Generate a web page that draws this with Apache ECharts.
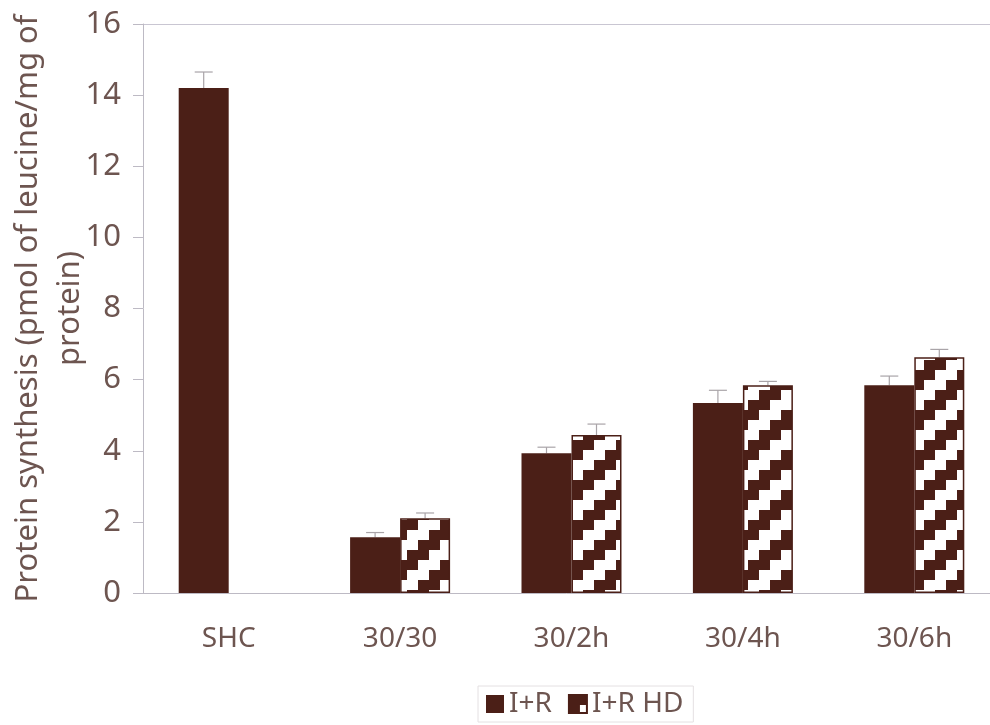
<!DOCTYPE html>
<html>
<head>
<meta charset="utf-8">
<title>Protein synthesis</title>
<script src="https://cdn.jsdelivr.net/npm/echarts@6/dist/echarts.min.js"></script>
<style>
  html, body { margin: 0; padding: 0; background: #fff; }
  #box { width: 990px; height: 725px; }
</style>
</head>
<body>
<div id="box"></div>
<script>
var categories = ['SHC', '30/30', '30/2h', '30/4h', '30/6h']
var irValues = [14.2, 1.57, 3.93, 5.34, 5.84]
var irErrors = [0.45, 0.13, 0.17, 0.36, 0.26]
var hdValues = [null, 2.1, 4.44, 5.84, 6.63]
var hdErrors = [null, 0.15, 0.31, 0.11, 0.22]
var yTicks = [0, 2, 4, 6, 8, 10, 12, 14, 16]

var brown = '#4b1f17'
var textColor = '#6d5550'
var fontName = 'Noto Sans'

// staircase hatch for the HD bars
function makePattern() {
  var c = document.createElement('canvas')
  c.width = 44
  c.height = 40
  var ctx = c.getContext('2d')
  ctx.fillStyle = '#fff'
  ctx.fillRect(0, 0, 44, 40)
  ctx.fillStyle = brown
  for (var i = 0; i < 4; i++) {
    for (var j = 0; j < 4; j++) {
      var k = (i + j) % 4
      if (k === 0 || k === 1) ctx.fillRect(i * 11, j * 10, 11, 10)
    }
  }
  return c
}

function errorSeries(values, errors, offset) {
  var data = []
  for (var i = 0; i < values.length; i++) {
    if (values[i] == null) continue
    data.push([i, values[i], values[i] + errors[i]])
  }
  return {
    type: 'custom',
    silent: true,
    z: 1,
    data: data,
    renderItem: function (params, api) {
      var p0 = api.coord([api.value(0), api.value(1)])
      var p1 = api.coord([api.value(0), api.value(2)])
      var x = p0[0] + offset
      var style = { stroke: '#a9a4a8', lineWidth: 1.2 }
      return {
        type: 'group',
        children: [
          { type: 'line', shape: { x1: x, y1: p0[1], x2: x, y2: p1[1] }, style: style },
          { type: 'line', shape: { x1: x - 9, y1: p1[1], x2: x + 9, y2: p1[1] }, style: style }
        ]
      }
    }
  }
}

var mCharts = echarts.init(document.querySelector('#box'))
var option = {
  animation: false,
  textStyle: { fontFamily: fontName, color: textColor },
  grid: { left: 143, right: -10, top: 24, bottom: 132, containLabel: false, outerBoundsMode: 'none' },
  legend: {
    left: 478,
    top: 686,
    icon: 'rect',
    itemWidth: 18,
    itemHeight: 18,
    itemGap: 16,
    padding: [4, 10, 4, 8],
    borderColor: '#e4e0e2',
    borderWidth: 1,
    textStyle: { fontSize: 28, color: textColor, fontFamily: fontName },
    data: ['I+R', 'I+R HD']
  },
  xAxis: {
    type: 'category',
    data: categories,
    axisLine: { lineStyle: { color: '#bdbac4', width: 1 } },
    axisTick: { length: 10, lineStyle: { color: '#bdbac4' } },
    axisLabel: { fontSize: 28, color: textColor, margin: 32 }
  },
  yAxis: {
    type: 'value',
    min: 0,
    max: 16,
    interval: 2,
    name: 'Protein synthesis (pmol of leucine/mg of\nprotein)',
    nameLocation: 'middle',
    nameGap: 52,
    nameMoveOverlap: false,
    nameTextStyle: { fontSize: 31, color: textColor, lineHeight: 42 },
    axisLine: { show: true, lineStyle: { color: '#bdbac4', width: 1 } },
    axisTick: { show: true, length: 10, lineStyle: { color: '#bdbac4' } },
    axisLabel: {
      fontSize: 31,
      color: textColor,
      margin: 22,
      formatter: function (v) { return yTicks.indexOf(v) >= 0 ? String(v) : '' }
    },
    splitLine: {
      show: true,
      lineStyle: {
        color: ['none', 'none', 'none', 'none', 'none', 'none', 'none', 'none', '#c9c6d2'],
        width: 1
      }
    }
  },
  series: [
    {
      name: 'I+R',
      type: 'bar',
      data: irValues,
      barWidth: 50,
      barGap: '0%',
      z: 2,
      itemStyle: { color: brown }
    },
    {
      name: 'I+R HD',
      type: 'bar',
      data: hdValues,
      barWidth: 50,
      z: 2,
      itemStyle: {
        color: { image: makePattern(), repeat: 'repeat' },
        borderColor: brown,
        borderWidth: 1.5
      }
    },
    errorSeries(irValues, irErrors, -25),
    errorSeries(hdValues, hdErrors, 25)
  ]
}
mCharts.setOption(option)
</script>
</body>
</html>
